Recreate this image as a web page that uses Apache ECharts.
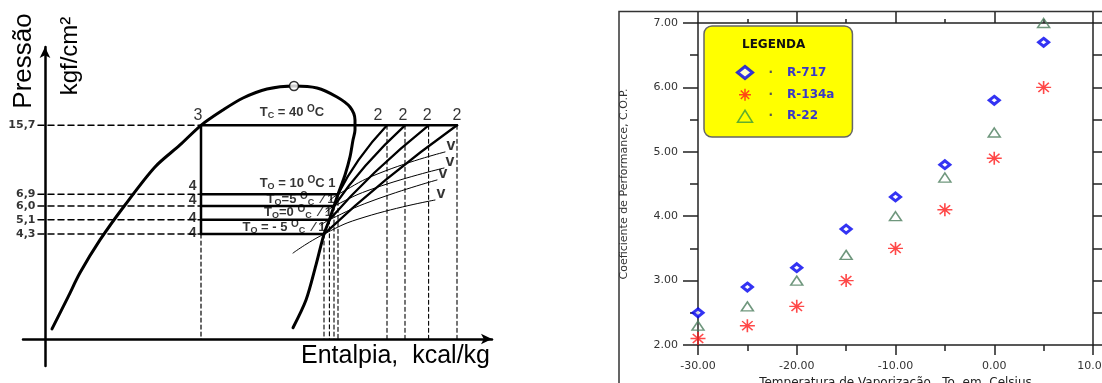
<!DOCTYPE html>
<html>
<head>
<meta charset="utf-8">
<title>Ciclo P-h e COP</title>
<script src="https://cdn.jsdelivr.net/npm/echarts@6/dist/echarts.min.js"></script>
<style>
  html, body { margin: 0; padding: 0; background: #fff; }
  #chart { width: 1102px; height: 383px; }
</style>
</head>
<body>
<div id="chart"></div>
<script>
// ---- diagrama pressão x entalpia (esquerda) ----
// entalpia em unidades do esquema, pressão em kgf/cm2 (eixo log)
const pCond = 15.7
const condTemp = 40
const evapPressures = [6.9, 6.0, 5.1, 4.3]
const evapTemps = ['10', '5', '0', '- 5']
const pressureLabels = ['15,7', '6,9', '6,0', '5,1', '4,3']
const hLiquid = 44.5 // pontos 3 e 4
const hSuction = [78.75, 77.75, 76.6, 75.25] // pontos 1
const hDischarge = [91, 95.5, 101.4, 108.5] // pontos 2
const compressionMid = [[83.9, 10.41], [85.6, 9.71], [87.9, 8.95], [90.75, 8.22]]
const satLiquid = [[7.25, 1.39], [11.25, 2.03], [14.25, 2.71], [19.25, 4.01], [25.5, 6.08], [33, 9.56],
  [39.25, 12.42], [44.5, 15.7], [50, 18.84], [55, 21.73], [61, 24.19], [67.75, 25.07]]
const satVapor = [[67.75, 25.07], [73.5, 24.48], [78.5, 21.99], [81.75, 19.52], [83, 16.72], [83, 14.84],
  [82.5, 13.18], [81.75, 10.77], [80.5, 8.69], [78.75, 6.9], [77.75, 6.0], [76.6, 5.1], [75.25, 4.3],
  [73.25, 2.98], [70.75, 1.96], [67.5, 1.41]]
const criticalPoint = [67.75, 25.07]
const isochores = [
  [[76.75, 6.45], [78.75, 6.9], [89.25, 8.90], [105.5, 11.43]],
  [[75.75, 5.59], [77.75, 6.0], [88, 7.44], [105.25, 9.44]],
  [[74.5, 4.79], [76.6, 5.1], [87.25, 6.38], [103.5, 8.19]],
  [[67.5, 3.43], [75.25, 4.3], [85.5, 5.27], [103, 6.45]]
]
const hGuideStart = 3.75
const pBase = 1.23

// ---- COP x temperatura de vaporização (direita) ----
const temps = [-30, -25, -20, -15, -10, -5, 0, 5]
const copR717 = [2.5, 2.9, 3.2, 3.8, 4.3, 4.8, 5.8, 6.7]
const copR134a = [2.1, 2.3, 2.6, 3.0, 3.5, 4.1, 4.9, 6.0]
const copR22 = [2.3, 2.6, 3.0, 3.4, 4.0, 4.6, 5.3, 7.0]

const L = { xAxisIndex: 0, yAxisIndex: 0 }
const R = { xAxisIndex: 1, yAxisIndex: 1 }
const pressures = [pCond].concat(evapPressures)

function path(data, width, dash, smooth) {
  return Object.assign({
    type: 'line',
    data: data,
    symbol: 'none',
    silent: true,
    smooth: smooth || false,
    lineStyle: { color: '#000', width: width, type: dash || 'solid', cap: 'round', join: 'round' },
    z: 3
  }, L)
}

function textMarks(data, label) {
  return Object.assign({
    type: 'scatter',
    data: data,
    symbolSize: 1,
    silent: true,
    itemStyle: { color: 'rgba(0,0,0,0)' },
    z: 6,
    label: Object.assign({ show: true, color: '#000' }, label)
  }, L)
}

const richT = {
  t: { fontFamily: 'Liberation Sans', fontWeight: 'bold', fontSize: 13, color: '#000', lineHeight: 16 },
  s: { fontFamily: 'Liberation Sans', fontWeight: 'bold', fontSize: 9, color: '#000', lineHeight: 8, verticalAlign: 'bottom' },
  u: { fontFamily: 'Liberation Sans', fontWeight: 'bold', fontSize: 10, color: '#000', lineHeight: 10, verticalAlign: 'top' }
}

const series = []

// curva de saturação
series.push(path(satLiquid.concat(satVapor.slice(1)), 3, null, 0.3))
// condensação e expansão
series.push(path([[hLiquid, pCond], [hDischarge[hDischarge.length - 1], pCond]], 2.5))
series.push(path([[hLiquid, pCond], [hLiquid, evapPressures[evapPressures.length - 1]]], 2.5))
// evaporação e compressão
evapPressures.forEach(function (p, i) {
  series.push(path([[hLiquid, p], [hSuction[i], p]], 2.5))
  series.push(path([[hSuction[i], p], compressionMid[i], [hDischarge[i], pCond]], 2.3, null, true))
})
// linhas de volume específico
isochores.forEach(function (iso) {
  series.push(path(iso, 1, null, true))
})
// linhas tracejadas
pressures.forEach(function (p) {
  series.push(path([[hGuideStart, p], [hLiquid, p]], 1.5, [6, 4]))
})
series.push(path([[hLiquid, evapPressures[evapPressures.length - 1]], [hLiquid, pBase]], 1.2, [4, 3]))
hSuction.forEach(function (h, i) {
  series.push(path([[h, evapPressures[i]], [h, pBase]], 1.1, [4, 3]))
})
hDischarge.forEach(function (h) {
  series.push(path([[h, pCond], [h, pBase]], 1.1, [4, 3]))
})

// ponto crítico + Tc
series.push(Object.assign({
  type: 'scatter',
  data: [criticalPoint],
  symbol: 'circle',
  symbolSize: 9,
  silent: true,
  z: 7,
  itemStyle: { color: '#fff', borderColor: '#000', borderWidth: 1.5 },
  label: {
    show: true, position: 'bottom', distance: 13, offset: [-2, 0],
    formatter: '{t|T}{s|C}{t| = ' + condTemp + ' }{u|O}{t|C}',
    rich: {
      t: { fontFamily: 'Liberation Sans', fontWeight: 'bold', fontSize: 13, color: '#000', lineHeight: 16 },
      s: { fontFamily: 'Liberation Sans', fontWeight: 'bold', fontSize: 9, color: '#000', lineHeight: 8, verticalAlign: 'bottom' },
      u: { fontFamily: 'Liberation Sans', fontWeight: 'bold', fontSize: 10, color: '#000', lineHeight: 10, verticalAlign: 'top' }
    }
  }
}, L))

// rótulos de pressão
series.push(textMarks(pressures.map(function (p) { return [hGuideStart, p] }), {
  position: 'left', distance: 2,
  formatter: function (d) { return pressureLabels[d.dataIndex] },
  fontFamily: 'DejaVu Sans', fontWeight: 'bold', fontSize: 11
}))
// ponto 3
series.push(textMarks([{ value: [hLiquid, pCond], label: { offset: [-3, 0] } }], {
  position: 'top', distance: 1, formatter: '3', fontFamily: 'Liberation Sans', fontSize: 16
}))
// pontos 2
const off2 = [-9, -2, -1.5, 0]
series.push(textMarks(hDischarge.map(function (h, i) {
  return { value: [h, pCond], label: { offset: [off2[i], 0] } }
}), { position: 'top', distance: 1, formatter: '2', fontFamily: 'Liberation Sans', fontSize: 16 }))
// pontos 4
const off4 = [-8, -5.5, -2, -0.5]
series.push(textMarks(evapPressures.map(function (p, i) {
  return { value: [hLiquid, p], label: { offset: [0, off4[i]] } }
}), { position: 'left', distance: 4, formatter: '4', fontFamily: 'Liberation Sans', fontWeight: 'bold', fontSize: 14 }))
// pontos 1 com To
const offT = [[-2, -11], [1, -7], [3, -7.5], [2, -7]]
series.push(textMarks(hSuction.map(function (h, i) {
  return { value: [h, evapPressures[i]], label: { offset: offT[i] } }
}), {
  position: 'left', distance: 0,
  formatter: function (d) {
    const t = evapTemps[d.dataIndex]
    if (d.dataIndex === 0) return '{t|T}{s|O}{t| = ' + t + ' }{u|O}{t|C 1}'
    return '{t|T}{s|O}{t|' + (t.length > 2 ? ' = ' + t : '=' + t) + ' }{u|O}{s|C}{t|  \u2044 1}'
  },
  rich: richT
}))
// v
series.push(textMarks(isochores.map(function (iso) { return iso[iso.length - 1] }), {
  position: 'right', distance: 1, offset: [0, -6], formatter: 'v',
  fontFamily: 'Liberation Sans', fontWeight: 'bold', fontSize: 16
}))

// ---- série de COP ----
series.push(Object.assign({
  type: 'scatter', name: 'R-717',
  data: temps.map(function (t, i) { return [t, copR717[i]] }),
  symbol: 'diamond', symbolSize: [10, 8], z: 4,
  itemStyle: { color: '#fff', borderColor: '#0000f0', borderWidth: 3 }
}, R))
series.push(Object.assign({
  type: 'scatter', name: 'R-134a',
  data: temps.map(function (t, i) { return [t, copR134a[i]] }),
  symbol: 'path://M0,-10L0,10M-10,0L10,0M-7,-7L7,7M-7,7L7,-7', symbolSize: [15, 13], z: 4,
  itemStyle: { color: 'rgba(0,0,0,0)', borderColor: '#ff1a1a', borderWidth: 1.5 }
}, R))
series.push(Object.assign({
  type: 'scatter', name: 'R-22',
  data: temps.map(function (t, i) { return [t, copR22[i]] }),
  symbol: 'triangle', symbolSize: [12, 9], z: 4,
  itemStyle: { color: 'rgba(0,0,0,0)', borderColor: '#4b7d5c', borderWidth: 1.5 }
}, R))

const axisInk = { color: '#222', width: 1.5 }
const tickFont = { fontFamily: 'DejaVu Sans', fontSize: 11, color: '#333' }

const option = {
  animation: false,
  backgroundColor: '#fff',
  title: [{
    text: 'LEGENDA', left: 742, top: 39, padding: 0,
    textStyle: { fontFamily: 'DejaVu Sans', fontWeight: 'bold', fontSize: 12, color: '#111' }
  }],
  legend: {
    data: [
      { name: 'R-717', itemStyle: { borderWidth: 3 } },
      { name: 'R-134a', itemStyle: { borderWidth: 1.5 } },
      { name: 'R-22', itemStyle: { borderWidth: 1.5, borderColor: '#3a9a3a' } }
    ],
    orient: 'vertical',
    left: 704,
    top: 26,
    padding: [39, 18, 14, 32],
    itemGap: 8,
    itemWidth: 15,
    itemHeight: 12,
    selectedMode: false,
    backgroundColor: '#ffff00',
    borderColor: '#666',
    borderWidth: 1.5,
    borderRadius: 8,
    formatter: function (name) { return '{d|\u00b7}{n|' + name + '}' },
    textStyle: {
      rich: {
        d: { fontFamily: 'DejaVu Sans', fontWeight: 'bold', fontSize: 12, color: '#555', lineHeight: 15, padding: [0, 14, 0, 11] },
        n: { fontFamily: 'DejaVu Sans', fontWeight: 'bold', fontSize: 12, color: '#3838c8', lineHeight: 15 }
      }
    }
  },
  grid: [
    { left: 23, top: 47, width: 469, height: 319, outerBoundsMode: 'none' },
    { left: 698, top: 23, width: 395, height: 322, outerBoundsMode: 'none' }
  ],
  xAxis: [
    {
      gridIndex: 0, type: 'value', min: 0, max: 117.25, position: 'bottom', offset: -27,
      axisLine: { onZero: false, symbol: ['none', 'arrow'], symbolSize: [8, 11], lineStyle: { color: '#000', width: 2.5 } },
      axisTick: { show: false }, axisLabel: { show: false }, splitLine: { show: false },
      name: 'Entalpia,  kcal/kg', nameLocation: 'end', nameGap: -2,
      nameTextStyle: { fontFamily: 'Liberation Sans', fontSize: 25, color: '#000', align: 'right', verticalAlign: 'top', lineHeight: 25, padding: [5, 0, 0, 0] }
    },
    {
      gridIndex: 1, type: 'value', min: -30, max: 10, interval: 10, position: 'bottom',
      axisLine: { onZero: false, lineStyle: axisInk },
      axisTick: { length: 10, lineStyle: axisInk },
      minorTick: { show: true, splitNumber: 2, length: 6, lineStyle: axisInk },
      axisLabel: Object.assign({ margin: 16, formatter: function (v) { return v.toFixed(2) } }, tickFont),
      splitLine: { show: false },
      name: 'Temperatura de Vaporização,  To, em  Celsius', nameLocation: 'middle', nameGap: 29,
      nameTextStyle: { fontFamily: 'DejaVu Sans', fontSize: 12, color: '#222' }
    },
    {
      gridIndex: 1, type: 'value', min: -30, max: 10, interval: 10, position: 'top',
      axisLine: { onZero: false, lineStyle: axisInk },
      axisTick: { length: 11, lineStyle: axisInk },
      minorTick: { show: true, splitNumber: 2, length: 4, lineStyle: axisInk },
      axisLabel: { show: false }, splitLine: { show: false }
    }
  ],
  yAxis: [
    {
      gridIndex: 0, type: 'log', min: 0.894, max: 39.88, offset: -22,
      axisLine: { onZero: false, symbol: ['none', 'arrow'], symbolSize: [8, 11], lineStyle: { color: '#000', width: 2.5 } },
      axisTick: { show: false }, axisLabel: { show: false }, splitLine: { show: false }
    },
    {
      gridIndex: 1, type: 'value', min: 2, max: 7, interval: 1, position: 'left',
      axisLine: { onZero: false, lineStyle: axisInk },
      axisTick: { length: 15, lineStyle: axisInk },
      minorTick: { show: true, splitNumber: 2, length: 8, lineStyle: axisInk },
      axisLabel: Object.assign({ margin: 20, formatter: function (v) { return v.toFixed(2) } }, tickFont),
      splitLine: { show: false },
      name: 'Coeficiente de Performance, C.O.P.', nameLocation: 'middle', nameGap: 68,
      nameTextStyle: { fontFamily: 'DejaVu Sans', fontSize: 11, color: '#333' }
    },
    {
      gridIndex: 1, type: 'value', min: 2, max: 7, interval: 1, position: 'right',
      axisLine: { onZero: false, lineStyle: axisInk },
      axisTick: { length: 10, lineStyle: axisInk },
      minorTick: { show: true, splitNumber: 2, length: 10, lineStyle: axisInk },
      axisLabel: { show: false }, splitLine: { show: false }
    }
  ],
  graphic: [
    {
      type: 'text', x: 24, y: 61, rotation: Math.PI / 2, silent: true,
      style: { text: 'Pressão', font: '26px "Liberation Sans"', fill: '#000', align: 'center', verticalAlign: 'middle' }
    },
    {
      type: 'text', x: 70, y: 56, rotation: Math.PI / 2, silent: true,
      style: { text: 'kgf/cm²', font: '24px "Liberation Sans"', fill: '#000', align: 'center', verticalAlign: 'middle' }
    },
    {
      type: 'rect', silent: true, z: -1,
      shape: { x: 619, y: 11.5, width: 700, height: 600 },
      style: { fill: 'none', stroke: '#333', lineWidth: 1.5 }
    }
  ],
  series: series
}

const myChart = echarts.init(document.getElementById('chart'))
myChart.setOption(option)
</script>
</body>
</html>
